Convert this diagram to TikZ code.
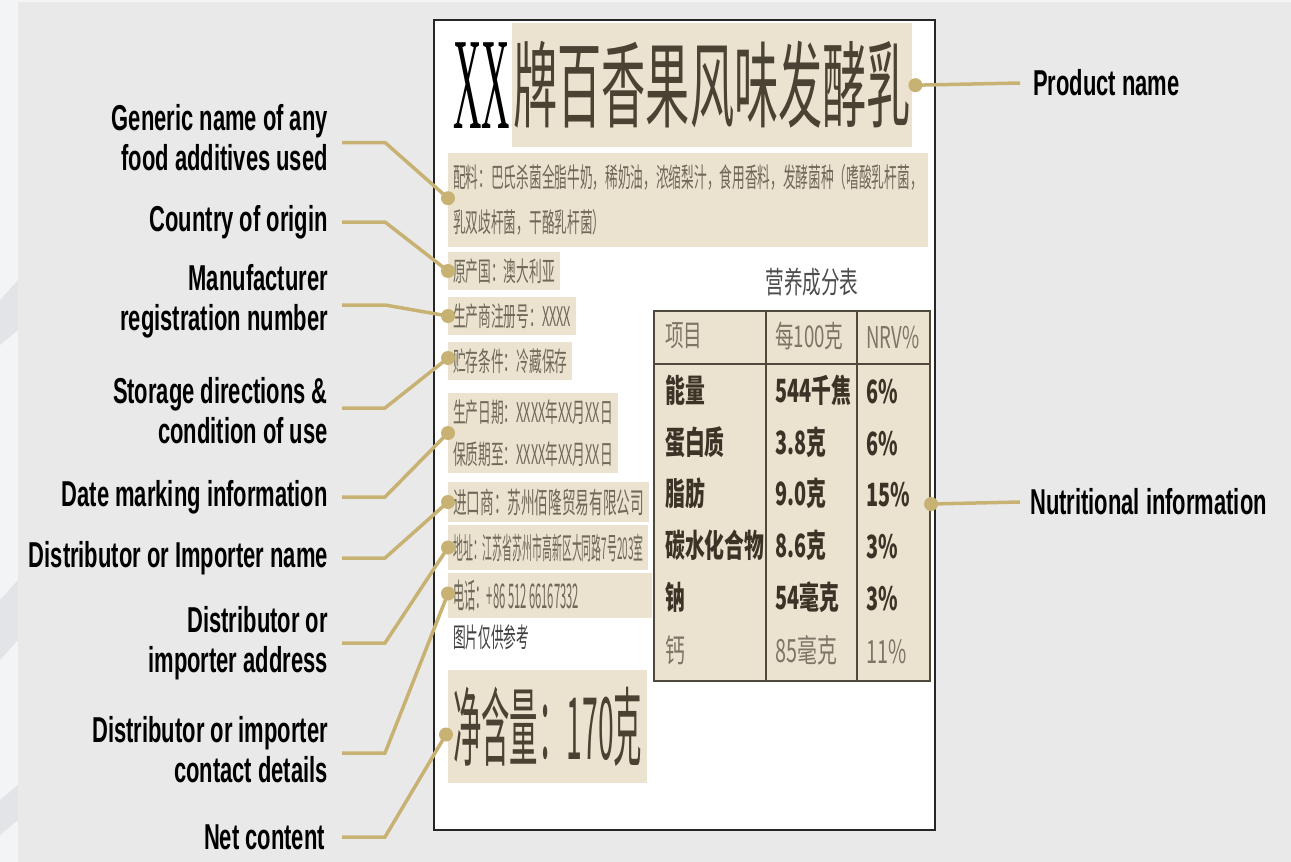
\documentclass[tikz,border=0pt]{standalone}
\usepackage{fontspec}
\setmainfont{Liberation Sans}
\newfontfamily\lblfont[FakeStretch=0.61]{Liberation Sans}
\newfontfamily\cjk[FakeStretch=0.47]{Noto Sans CJK SC}
\newfontfamily\cjknarrow[FakeStretch=0.33]{Noto Sans CJK SC}
\newfontfamily\cjkt[FakeStretch=0.62]{Noto Sans CJK SC}
\newfontfamily\xxfont[FakeStretch=0.3]{Liberation Serif}

\definecolor{backdrop}{RGB}{243,244,246}
\definecolor{swoosh}{RGB}{226,228,232}
\definecolor{panelgray}{RGB}{233,233,233}
\definecolor{beige}{RGB}{235,227,208}
\definecolor{gold}{RGB}{200,178,115}
\definecolor{inkbrown}{RGB}{74,66,50}
\definecolor{inkgray}{RGB}{112,104,88}
\definecolor{inkdark}{RGB}{58,51,38}
\definecolor{headgray}{RGB}{125,117,101}
\definecolor{tblline}{RGB}{80,72,58}

\begin{document}
\begin{tikzpicture}[x=1pt, y=-1pt,
		lbl/.style={font=\lblfont\bfseries\fontsize{36}{40}\selectfont, align=right, anchor=east, inner sep=0pt},
		rlbl/.style={font=\lblfont\bfseries\fontsize{36}{40}\selectfont, anchor=west, inner sep=0pt},
		lead/.style={draw=gold, line width=3.5pt},
		dot/.style={circle, fill=gold, inner sep=0pt, minimum size=14pt},
		infobox/.style={fill=beige, anchor=west, inner xsep=5pt, inner ysep=0pt, align=left, text=inkgray, font=\cjk\fontsize{27}{42}\selectfont},
		cell/.style={anchor=west, inner sep=0pt, text=inkdark, font=\cjkt\bfseries\fontsize{32}{32}\selectfont},
		headcell/.style={anchor=west, inner sep=0pt, text=headgray, font=\cjkt\fontsize{30}{30}\selectfont}]
		\useasboundingbox (0,0) rectangle (1291,862);

		% Draw the backdrop and the grey panel
		\fill[backdrop] (0,0) rectangle (1291,862);
		\fill[swoosh] (0,300) -- (18,280) -- (18,330) -- (0,345) -- cycle;
		\fill[swoosh] (0,600) -- (18,580) -- (18,640) -- (0,660) -- cycle;
		\fill[swoosh] (0,800) -- (18,785) -- (18,820) -- (0,835) -- cycle;
		\fill[panelgray] (18,2) rectangle (1291,862);

		% Draw the food label
		\draw[black!85, line width=2.8pt, fill=white] (434,20) rectangle (935,830);

		% Product name
		\node[fill=beige, anchor=north west, minimum width=400pt, minimum height=124pt, inner sep=0pt, text=inkbrown, font=\cjk\fontsize{94}{94}\selectfont] (prodName) at (512,23) {牌百香果风味发酵乳};
		\node[anchor=east, inner sep=0pt, font=\xxfont\fontsize{131}{131}\selectfont] (prodXX) at ([xshift=-2pt]prodName.west) {XX};

		% Ingredients and the small boxes on the left
		\node[infobox, anchor=north west, minimum height=94pt, font=\cjk\fontsize{27}{45}\selectfont] (boxIngr) at (448,153) {配料：巴氏杀菌全脂牛奶，稀奶油，浓缩梨汁，食用香料，发酵菌种（嗜酸乳杆菌，\\乳双歧杆菌，干酪乳杆菌）};
		\node[infobox, minimum height=38pt] (boxCountry) at (448,271) {原产国：澳大利亚};
		\node[infobox, minimum height=38pt] (boxManuf) at (448,316) {生产商注册号：XXXX};
		\node[infobox, minimum height=38pt] (boxStorage) at (448,361) {贮存条件：冷藏保存};
		\node[infobox, minimum height=80pt] (boxDate) at (448,433) {生产日期：XXXX年XX月XX日\\保质期至：XXXX年XX月XX日};
		\node[infobox, minimum height=40pt, font=\cjk\fontsize{29}{29}\selectfont] (boxImpName) at (448,502) {进口商：苏州佰隆贸易有限公司};
		\node[infobox, minimum height=45pt, font=\cjknarrow\fontsize{30}{30}\selectfont] (boxImpAddr) at (448,547.5) {地址：江苏省苏州市高新区大同路7号203室};
		\node[infobox, minimum height=45pt, font=\cjknarrow\fontsize{34}{34}\selectfont] (boxImpContact) at (448,595.5) {电话：+86 512 66167332\hspace{68pt}};
		\node[anchor=west, inner xsep=5pt, text=black!75, font=\cjk\fontsize{27}{27}\selectfont] (refNote) at (448,637) {图片仅供参考};
		\node[infobox, minimum height=113pt, font=\cjknarrow\fontsize{86}{86}\selectfont, text=inkbrown] (boxNet) at (448,726.5) {净含量：170克};

		% Nutrition table
		\node[headcell, anchor=center, text=black!70] (nutTitle) at (812,282) {营养成分表};
		\node[draw=tblline, line width=2pt, fill=beige, anchor=north west, minimum width=276pt, minimum height=370pt, inner sep=0pt] (nutTable) at (653,310) {};
		\draw[tblline, line width=2pt] (nutTable.north west) ++(0,54) -- ++(276,0);
		\draw[tblline, line width=1.5pt] (nutTable.north west) ++(113,0) -- ++(0,370);
		\draw[tblline, line width=1.5pt] (nutTable.north west) ++(204,0) -- ++(0,370);

		\node[headcell] (hItem) at (665,336) {项目};
		\node[headcell] (hAmount) at (775,336) {每100克};
		\node[headcell] (hNrv) at (866,338) {NRV\%};

		\node[cell] (rEnergy) at (665,390) {能量};
		\node[cell] (vEnergy) at (775,390) {544千焦};
		\node[cell] (nEnergy) at (866,392) {6\%};
		\node[cell] (rProtein) at (665,442) {蛋白质};
		\node[cell] (vProtein) at (775,442) {3.8克};
		\node[cell] (nProtein) at (866,444) {6\%};
		\node[cell] (rFat) at (665,493) {脂肪};
		\node[cell] (vFat) at (775,493) {9.0克};
		\node[cell] (nFat) at (866,495) {15\%};
		\node[cell] (rCarb) at (665,545) {碳水化合物};
		\node[cell] (vCarb) at (775,545) {8.6克};
		\node[cell] (nCarb) at (866,547) {3\%};
		\node[cell] (rSodium) at (665,597) {钠};
		\node[cell] (vSodium) at (775,597) {54毫克};
		\node[cell] (nSodium) at (866,599) {3\%};
		\node[headcell, font=\cjkt\fontsize{32}{32}\selectfont] (rCalcium) at (665,650) {钙};
		\node[headcell, font=\cjkt\fontsize{32}{32}\selectfont] (vCalcium) at (775,650) {85毫克};
		\node[headcell, font=\cjkt\fontsize{32}{32}\selectfont] (nCalcium) at (866,652) {11\%};

		% Labels on the left
		\node[lbl] (lGeneric) at (328,137.5) {Generic name of any\\food additives used};
		\node[lbl] (lCountry) at (328,222) {Country of origin};
		\node[lbl] (lManuf) at (328,301) {Manufacturer\\registration number};
		\node[lbl] (lStorage) at (328,411) {Storage directions \&\\condition of use};
		\node[lbl] (lDate) at (328,497) {Date marking information};
		\node[lbl] (lImpName) at (328,558) {Distributor or Importer name};
		\node[lbl] (lImpAddr) at (328,643) {Distributor or\\importer address};
		\node[lbl] (lImpContact) at (328,750) {Distributor or importer\\contact details};
		\node[lbl] (lNet) at (325,837) {Net content};

		% Labels on the right
		\node[rlbl] (lProd) at (1033,83) {Product name};
		\node[rlbl] (lNut) at (1030,502) {Nutritional information};

		% Dots on the label
		\node[dot] (dProd) at ([xshift=3pt]prodName.east) {};
		\node[dot] (dGeneric) at ([yshift=2pt]boxIngr.west) {};
		\node[dot] (dCountry) at (boxCountry.west) {};
		\node[dot] (dManuf) at (boxManuf.west) {};
		\node[dot] (dStorage) at ([yshift=3pt]boxStorage.west) {};
		\node[dot] (dDate) at (boxDate.west) {};
		\node[dot] (dImpName) at (boxImpName.west) {};
		\node[dot] (dImpAddr) at (boxImpAddr.west) {};
		\node[dot] (dImpContact) at ([yshift=2pt]boxImpContact.west) {};
		\node[dot] (dNet) at ([xshift=-2pt,yshift=-8pt]boxNet.west) {};
		\node[dot] (dNut) at ([yshift=-8pt]nutTable.east) {};

		% Draw the leader lines
		\draw[lead] ([xshift=14pt,yshift=-5pt]lGeneric.east) -- ++(43,0) -- (dGeneric.center);
		\draw[lead] ([xshift=14pt]lCountry.east) -- ++(43,0) -- (dCountry.center);
		\draw[lead] ([xshift=14pt,yshift=-4pt]lManuf.east) -- ++(43,0) -- (dManuf.center);
		\draw[lead] ([xshift=14pt,yshift=3pt]lStorage.east) -- ++(43,0) -- (dStorage.center);
		\draw[lead] ([xshift=14pt]lDate.east) -- ++(43,0) -- (dDate.center);
		\draw[lead] ([xshift=14pt]lImpName.east) -- ++(43,0) -- (dImpName.center);
		\draw[lead] ([xshift=14pt]lImpAddr.east) -- ++(43,0) -- (dImpAddr.center);
		\draw[lead] ([xshift=14pt,yshift=-3pt]lImpContact.east) -- ++(43,0) -- (dImpContact.center);
		\draw[lead] ([xshift=17pt]lNet.east) -- ++(43,0) -- (dNet.center);
		\draw[lead] (dProd.center) -- ([xshift=-13pt]lProd.west);
		\draw[lead] (dNut.center) -- ([xshift=-10pt]lNut.west);

	\end{tikzpicture}
\end{document}
